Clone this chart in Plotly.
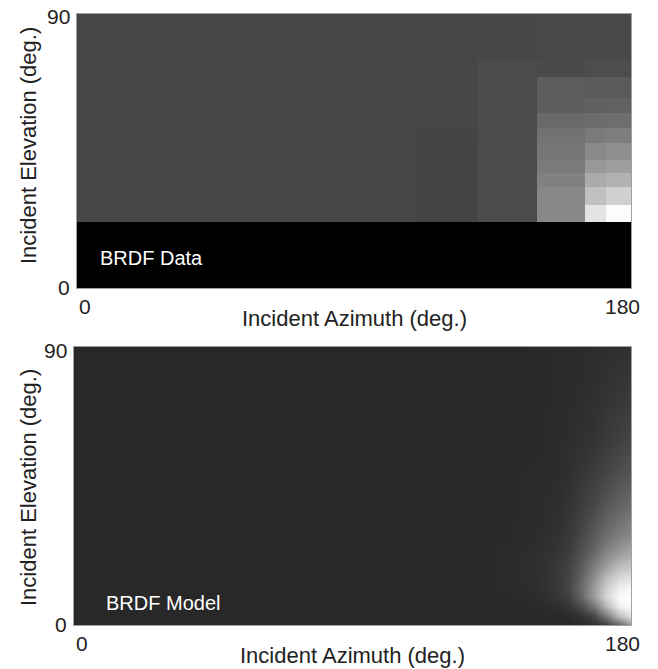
import plotly.graph_objects as go

# ---------------- data ----------------
# Top panel: measured BRDF data (cell edges, grey level 0-255)
data_az_edges = [0, 110, 130, 149.5, 165, 172, 180]
data_el_edges = [0, 21.7, 27.3, 33.2, 37.8, 42, 47.6, 52.6, 57.5, 62.4, 69.3, 75, 90]
data_values = [
    [0, 0, 0, 0, 0, 0],
    [70, 68, 75, 136, 228, 252],
    [70, 68, 75, 136, 192, 208],
    [70, 68, 75, 129, 170, 177],
    [70, 68, 75, 122, 152, 158],
    [70, 68, 75, 118, 138, 142],
    [70, 69, 75, 114, 122, 125],
    [70, 70, 75, 105, 108, 110],
    [70, 70, 75, 94, 96, 97],
    [70, 70, 75, 92, 90, 90],
    [70, 70, 75, 74, 77, 77],
    [70, 70, 71, 72, 73, 73],
]

# Bottom panel: BRDF model (sample points, grey level 0-255)
model_az = [0, 120, 140, 150, 156, 160, 164, 168, 172, 176, 180]
model_el = [0, 3, 6, 9, 12, 16, 20, 25, 30, 40, 50, 60, 75, 90]
model_values = [
    [40, 40, 40, 40, 40, 40, 42, 48, 65, 100, 150],
    [40, 40, 40, 40, 41, 43, 50, 70, 120, 190, 225],
    [40, 40, 40, 42, 46, 55, 75, 120, 185, 240, 252],
    [40, 40, 41, 45, 52, 65, 100, 155, 212, 250, 255],
    [40, 40, 42, 46, 55, 70, 105, 155, 205, 238, 248],
    [40, 40, 42, 47, 56, 70, 98, 140, 182, 212, 222],
    [40, 40, 42, 47, 55, 66, 88, 120, 152, 178, 190],
    [40, 40, 42, 46, 52, 60, 78, 100, 125, 145, 158],
    [40, 40, 41, 44, 49, 56, 70, 88, 106, 122, 134],
    [40, 40, 41, 43, 46, 51, 60, 70, 84, 96, 104],
    [40, 40, 41, 42, 44, 48, 53, 60, 68, 77, 84],
    [40, 40, 40, 41, 43, 45, 48, 52, 58, 64, 69],
    [40, 40, 40, 41, 42, 43, 45, 47, 51, 54, 57],
    [40, 40, 40, 41, 42, 42, 43, 45, 46, 48, 50],
]

x_ticks = [0, 180]
y_ticks = [0, 90]
x_title = "Incident Azimuth (deg.)"
y_title = "Incident Elevation (deg.)"
panel_labels = ["BRDF Data", "BRDF Model"]

# ---------------- figure ----------------
gray = [[0, "rgb(0,0,0)"], [1, "rgb(255,255,255)"]]
FONT = "Liberation Sans, Arial, sans-serif"
TXT = "#222222"

fig = go.Figure()
fig.add_trace(go.Heatmap(x=data_az_edges, y=data_el_edges, z=data_values,
                         colorscale=gray, zmin=0, zmax=255, showscale=False,
                         xaxis="x", yaxis="y", hoverinfo="skip"))
fig.add_trace(go.Heatmap(x=model_az, y=model_el, z=model_values,
                         colorscale=gray, zmin=0, zmax=255, showscale=False,
                         zsmooth="best", xaxis="x2", yaxis="y2", hoverinfo="skip"))

axis_common = dict(showgrid=False, zeroline=False, showticklabels=False, ticks="",
                   showline=True, mirror=True, linecolor="#a0a0a0", linewidth=1)

fig.update_layout(
    width=658, height=669, autosize=False,
    margin=dict(l=0, r=0, t=0, b=0),
    paper_bgcolor="white", plot_bgcolor="black",
    showlegend=False,
    xaxis=dict(domain=[77/658, 631/658], range=[0, 180], anchor="y", **axis_common),
    yaxis=dict(domain=[1-288/669, 1-14/669], range=[0, 90], anchor="x", **axis_common),
    xaxis2=dict(domain=[74/658, 631/658], range=[0, 180], anchor="y2", **axis_common),
    yaxis2=dict(domain=[1-625/669, 1-347/669], range=[0, 90], anchor="x2", **axis_common),
)

ann = []
panels = [("x", "y", 28/658, 1-146/669), ("x2", "y2", 28/658, 1-488/669)]
for i, (xr, yr, ytx, yty) in enumerate(panels):
    tf = dict(family=FONT, size=21, color=TXT)
    for v in y_ticks:
        ann.append(dict(xref=xr, yref=yr, x=0, y=v, text=str(v), showarrow=False,
                        xanchor="right", yanchor="middle", xshift=-5,
                        yshift=(-3 if v == 90 else 1), font=tf))
    for v in x_ticks:
        ann.append(dict(xref=xr, yref=yr + " domain", x=v, y=0, text=str(v), showarrow=False,
                        xanchor=("left" if v == 0 else "right"), yanchor="middle",
                        xshift=(0 if v == 0 else 11), yshift=-18, font=tf))
    ann.append(dict(xref=xr + " domain", yref=yr + " domain", x=0.5, y=0, text=x_title,
                    showarrow=False, xanchor="center", yanchor="middle", yshift=-30,
                    font=dict(family=FONT, size=22, color=TXT)))
    ann.append(dict(xref="paper", yref="paper", x=ytx, y=yty, text=y_title, textangle=-90,
                    showarrow=False, xanchor="center", yanchor="middle",
                    font=dict(family=FONT, size=22, color=TXT)))

ann.append(dict(xref="x", yref="y", x=6.8, y=9.9, text=panel_labels[0], showarrow=False,
                xanchor="left", yanchor="middle", font=dict(family=FONT, size=20, color="white")))
ann.append(dict(xref="x2", yref="y2", x=9.7, y=7.1, text=panel_labels[1], showarrow=False,
                xanchor="left", yanchor="middle", font=dict(family=FONT, size=20, color="white")))
fig.update_layout(annotations=ann)

fig.write_html("out.html", config={"displayModeBar": False},
               post_script="document.body.style.margin='0px';document.body.style.overflow='hidden';")
